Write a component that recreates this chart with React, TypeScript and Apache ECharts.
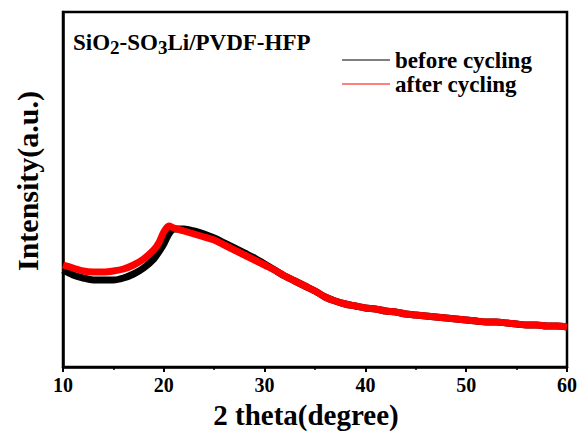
import { useEffect, useRef } from "react";
import * as echarts from "echarts";

const theta = [
  10, 11, 12, 13, 14, 15, 16, 17, 18, 19, 19.5, 20, 20.5,
  21, 22, 23, 24, 25, 26, 27, 28, 29, 30,
  31, 32, 33, 34, 35, 36, 37, 38, 39, 40,
  41, 42, 43, 44, 45, 46, 47, 48, 49, 50,
  51, 52, 53, 54, 55, 56, 57, 58, 59, 60,
];
const beforeCycling = [
  97, 92, 89, 87, 87, 87, 89, 93, 99, 108, 115, 123, 133,
  138, 138, 136, 133, 129, 124, 119, 114, 109, 103,
  97, 91, 86, 81, 76, 70, 66, 63, 61, 59,
  58, 56, 55, 53, 52, 51, 50, 49, 48, 47,
  46, 45, 45, 44, 43, 42, 42, 41, 41, 40,
];
const afterCycling = [
  102, 99, 96, 95, 95, 96, 98, 102, 108, 117, 124, 135, 141,
  139, 136, 133, 130, 127, 122, 117, 112, 107, 102,
  97, 91, 86, 81, 76, 70, 66, 63, 61, 59,
  58, 56, 55, 53, 52, 51, 50, 49, 48, 47,
  46, 45, 45, 44, 43, 42, 42, 41, 41, 40,
];
const seriesNames = ["before cycling", "after cycling"];
const xMin = 10;
const xMax = 60;
const xStep = 10;

export default function App() {
  const ref = useRef<HTMLDivElement>(null);
  useEffect(() => {
    const chart = echarts.init(ref.current!, null, { renderer: "svg" });
    const font = "'Liberation Serif', 'Times New Roman', serif";
    chart.setOption({
      animation: false,
      backgroundColor: "#ffffff",
      title: {
        text: "SiO{s|2}-SO{s|3}Li/PVDF-HFP",
        left: 73,
        top: 28,
        padding: 0,
        textStyle: {
          fontFamily: font,
          fontWeight: "bold",
          fontSize: 23,
          color: "#000",
          rich: {
            s: {
              fontFamily: font,
              fontWeight: "bold",
              fontSize: 19,
              color: "#000",
              padding: [10, 0, 0, 0],
            },
          },
        },
      },
      legend: {
        data: seriesNames.map((name) => ({ name, icon: "rect" })),
        orient: "vertical",
        left: 342,
        top: 48,
        padding: 0,
        itemWidth: 48,
        itemHeight: 1,
        itemGap: 0,
        itemStyle: { borderWidth: 0, borderColor: "rgba(0,0,0,0)" },
        lineStyle: { width: 0, color: "rgba(0,0,0,0)" },
        textStyle: {
          fontFamily: font,
          fontWeight: "bold",
          fontSize: 23,
          lineHeight: 24,
          color: "#000",
        },
      },
      grid: {
        left: 63,
        right: 16,
        top: 12,
        bottom: 74,
        show: true,
        borderColor: "#000",
        borderWidth: 2.5,
        backgroundColor: "transparent",
      },
      xAxis: {
        type: "value",
        min: xMin,
        max: xMax,
        interval: xStep,
        axisLine: { show: true, onZero: false, lineStyle: { color: "#000", width: 2.5 } },
        axisTick: { show: true, inside: false, length: 5, lineStyle: { color: "#000", width: 2 } },
        minorTick: { show: true, splitNumber: 2, length: 3, lineStyle: { color: "#000", width: 1.5 } },
        axisLabel: {
          margin: 8,
          fontFamily: font,
          fontWeight: "bold",
          fontSize: 20,
          color: "#000",
        },
        splitLine: { show: false },
      },
      yAxis: {
        type: "value",
        min: 0,
        max: 355,
        axisLine: { show: true, lineStyle: { color: "#000", width: 2.5 } },
        axisTick: { show: false },
        axisLabel: { show: false },
        splitLine: { show: false },
      },
      graphic: [
        {
          type: "text",
          x: 306,
          y: 415,
          style: {
            text: "2 theta(degree)",
            fontFamily: font,
            fontWeight: "bold",
            fontSize: 29,
            fill: "#000",
            textAlign: "center",
            textVerticalAlign: "middle",
          },
        },
        {
          type: "text",
          x: 27,
          y: 181,
          rotation: Math.PI / 2,
          style: {
            text: "Intensity(a.u.)",
            fontFamily: font,
            fontWeight: "bold",
            fontSize: 30,
            fill: "#000",
            textAlign: "center",
            textVerticalAlign: "middle",
          },
        },
      ],
      series: [
        {
          name: seriesNames[0],
          type: "line",
          data: theta.map((t, i) => [t, beforeCycling[i]]),
          showSymbol: false,
          smooth: 0.3,
          itemStyle: { color: "#000000" },
          lineStyle: { color: "#000000", width: 7 },
          z: 2,
        },
        {
          name: seriesNames[1],
          type: "line",
          data: theta.map((t, i) => [t, afterCycling[i]]),
          showSymbol: false,
          smooth: 0.3,
          itemStyle: { color: "#ff0000" },
          lineStyle: { color: "#ff0000", width: 7 },
          z: 3,
        },
      ],
    });
    return () => chart.dispose();
  }, []);
  return (
    <div
      ref={ref}
      style={{ position: "fixed", left: 0, top: 0, width: 583, height: 441 }}
    />
  );
}
